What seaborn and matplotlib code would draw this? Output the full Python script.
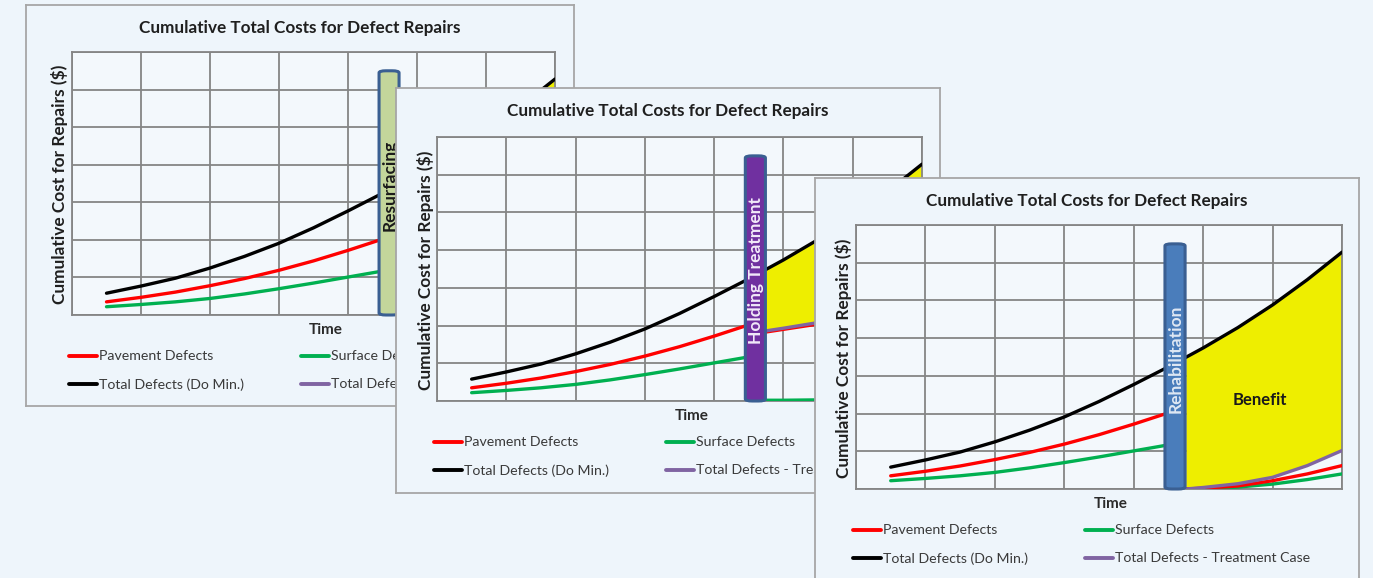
import numpy as np
import pandas as pd
import matplotlib
matplotlib.use("Agg")
import matplotlib.pyplot as plt
from matplotlib.patches import FancyBboxPatch
from matplotlib.lines import Line2D
from matplotlib.transforms import Bbox
import seaborn as sns

# ---------------- data ----------------
title = "Cumulative Total Costs for Defect Repairs"
ylabel = "Cumulative Cost for Repairs ($)"
xlabel = "Time"
series_names = ["Pavement Defects", "Surface Defects",
                "Total Defects (Do Min.)", "Total Defects - Treatment Case"]

# do-minimum curves (time units, cost units)
t_pre = [0.5, 1.0, 1.5, 2.0, 2.5, 3.0, 3.5, 4.0, 4.5]
pavement_pre = [0.35, 0.47, 0.61, 0.78, 0.97, 1.19, 1.44, 1.72, 2.02]
surface_pre = [0.22, 0.28, 0.35, 0.44, 0.56, 0.70, 0.85, 1.01, 1.17]
t_total = [0.5, 1.0, 1.5, 2.0, 2.5, 3.0, 3.5, 4.0, 4.5, 5.0, 5.5, 6.0, 6.5, 7.0]
total_do_min = [0.58, 0.77, 0.98, 1.25, 1.56, 1.91, 2.32, 2.77, 3.24, 3.74, 4.28, 4.88, 5.55, 6.28]

# treatment cases after the intervention
t_post = [4.75, 5.0, 5.5, 6.0, 6.5, 7.0]
# Resurfacing (panel 1)
resurf_pav = [1.10, 1.15, 1.24, 1.34, 1.46, 1.60]
resurf_surf = [0.02, 0.03, 0.05, 0.07, 0.10, 0.14]
resurf_total = [1.12, 1.18, 1.29, 1.41, 1.56, 1.74]
# Holding treatment (panel 2)
hold_pav = [1.83, 1.90, 2.04, 2.18, 2.34, 2.52]
hold_surf = [0.02, 0.02, 0.03, 0.05, 0.06, 0.08]
hold_total = [1.86, 1.93, 2.08, 2.24, 2.41, 2.60]
# Rehabilitation (panel 3)
rehab_pav = [0.00, 0.02, 0.08, 0.22, 0.40, 0.62]
rehab_surf = [0.00, 0.01, 0.05, 0.13, 0.25, 0.40]
rehab_total = [0.00, 0.04, 0.14, 0.31, 0.62, 1.02]

treatments = ["Resurfacing", "Holding Treatment", "Rehabilitation"]
bar_x = [4.45, 4.74]
bar_top = 6.5

# ---------------- style ----------------
W, H = 1373, 578
BG = "#eef5fb"
GRID = "#858585"
C_RED, C_GREEN, C_BLACK, C_PURPLE = "#ff0000", "#00b050", "#000000", "#8064a2"
YELLOW = "#eeee00"

sns.set_theme(style="white")
plt.rcParams["font.family"] = ["Lato", "DejaVu Sans"]

fig = plt.figure(figsize=(W / 100, H / 100), dpi=100, facecolor=BG)


def rect(x0, y0, x1, y1):
    return [x0 / W, 1 - y1 / H, (x1 - x0) / W, (y1 - y0) / H]


panels = [
    dict(box=(26, 5, 574, 406), plot=(72, 52, 555, 315),
         post=(resurf_pav, resurf_surf, resurf_total),
         bar_face="#c3d69b", bar_text="#1a1a1a", benefit=False, clip_x=396),
    dict(box=(396, 88, 940, 493), plot=(437, 137, 922, 401),
         post=(hold_pav, hold_surf, hold_total),
         bar_face="#7030a0", bar_text="#f2eaf9", benefit=False, clip_x=815),
    dict(box=(815, 178, 1359, 620), plot=(856, 225, 1342, 489),
         post=(rehab_pav, rehab_surf, rehab_total),
         bar_face="#4a7dbb", bar_text="#dfe8f4", benefit=True, clip_x=W),
]

for i, p in enumerate(panels):
    bx0, by0, bx1, by1 = p["box"]
    px0, py0, px1, py1 = p["plot"]
    # panel background box
    axb = fig.add_axes(rect(bx0, by0, bx1, by1), zorder=2 * i + 1)
    axb.set_facecolor(BG)
    axb.set_xticks([]); axb.set_yticks([])
    for s in axb.spines.values():
        s.set_color("#a6a6a6"); s.set_linewidth(1.3)
    axb.set_xlim(bx0, bx1); axb.set_ylim(by1, by0)

    axb.text((bx0 + bx1) / 2 + 0, by0 + 23, title, ha="center", va="center",
             fontsize=12.3, fontweight="bold", color="#1f1f1f")
    axb.text((px0 + px1) / 2 + 12, py1 + 15, xlabel, ha="center", va="center",
             fontsize=11, fontweight="bold", color="#2a2a2a")
    axb.text(px0 - 12, (py0 + py1) / 2 + 1, ylabel, ha="center", va="center",
             rotation=90, fontsize=12.4, fontweight="bold", color="#1f1f1f")

    # legend (manual grid of line + label, as in the Excel chart)
    leg_rows = [py1 + 41, py1 + 69]
    leg_cols = [px0 - 3, px0 + 229]
    legend_items = [(series_names[0], C_RED), (series_names[1], C_GREEN),
                    (series_names[2], C_BLACK), (series_names[3], C_PURPLE)]
    clip_bbox = Bbox.from_extents(0, 0, p["clip_x"] - 1, H)
    for k, (lab, col) in enumerate(legend_items):
        lx = leg_cols[k % 2]; ly = leg_rows[k // 2]
        axb.add_line(Line2D([lx, lx + 28], [ly, ly], color=col, lw=2.8))
        t = axb.text(lx + 30, ly + 0.5, lab, ha="left", va="center",
                     fontsize=10.2, color="#3a3a3a")
        t.set_clip_box(clip_bbox)
        t.set_clip_on(True)

    # plot axes
    ax = fig.add_axes(rect(px0, py0, px1, py1), zorder=2 * i + 2)
    ax.set_facecolor("#f3f8fc")
    ax.set_xlim(0, 7); ax.set_ylim(0, 7)
    ax.set_xticks(range(8)); ax.set_yticks(range(8))
    ax.grid(True, color=GRID, lw=1.3)
    ax.tick_params(length=0, labelbottom=False, labelleft=False)
    for s in ax.spines.values():
        s.set_color(GRID); s.set_linewidth(1.3)

    pav, surf, tot = p["post"]
    ax.fill_between(t_post, np.interp(t_post, t_total, total_do_min), tot,
                    color=YELLOW, lw=0, zorder=2)

    lw = 2.4
    sns.lineplot(x=t_pre, y=pavement_pre, ax=ax, color=C_RED, lw=lw, zorder=4)
    sns.lineplot(x=t_pre, y=surface_pre, ax=ax, color=C_GREEN, lw=lw, zorder=4)
    sns.lineplot(x=t_total, y=total_do_min, ax=ax, color=C_BLACK, lw=lw, zorder=4)
    sns.lineplot(x=t_post, y=surf, ax=ax, color=C_GREEN, lw=lw, zorder=4)
    sns.lineplot(x=t_post, y=pav, ax=ax, color=C_RED, lw=lw, zorder=4)
    sns.lineplot(x=t_post, y=tot, ax=ax, color=C_PURPLE, lw=lw, zorder=4)

    bar = FancyBboxPatch((bar_x[0], 0), bar_x[1] - bar_x[0], bar_top,
                         boxstyle="round,pad=0,rounding_size=0.1",
                         mutation_aspect=0.55,
                         fc=p["bar_face"], ec="#3a5f92", lw=2.2, zorder=6,
                         clip_on=False)
    ax.add_patch(bar)
    ax.text((bar_x[0] + bar_x[1]) / 2 + 0.01, 3.45, treatments[i], rotation=90,
            ha="center", va="center", fontsize=12.5, fontweight="bold",
            color=p["bar_text"], zorder=7)
    if p["benefit"]:
        ax.text(5.82, 2.37, "Benefit", ha="center", va="center", fontsize=12,
                fontweight="bold", color="#1a1a1a", zorder=7)

fig.savefig("out.png", dpi=100, facecolor=BG)
